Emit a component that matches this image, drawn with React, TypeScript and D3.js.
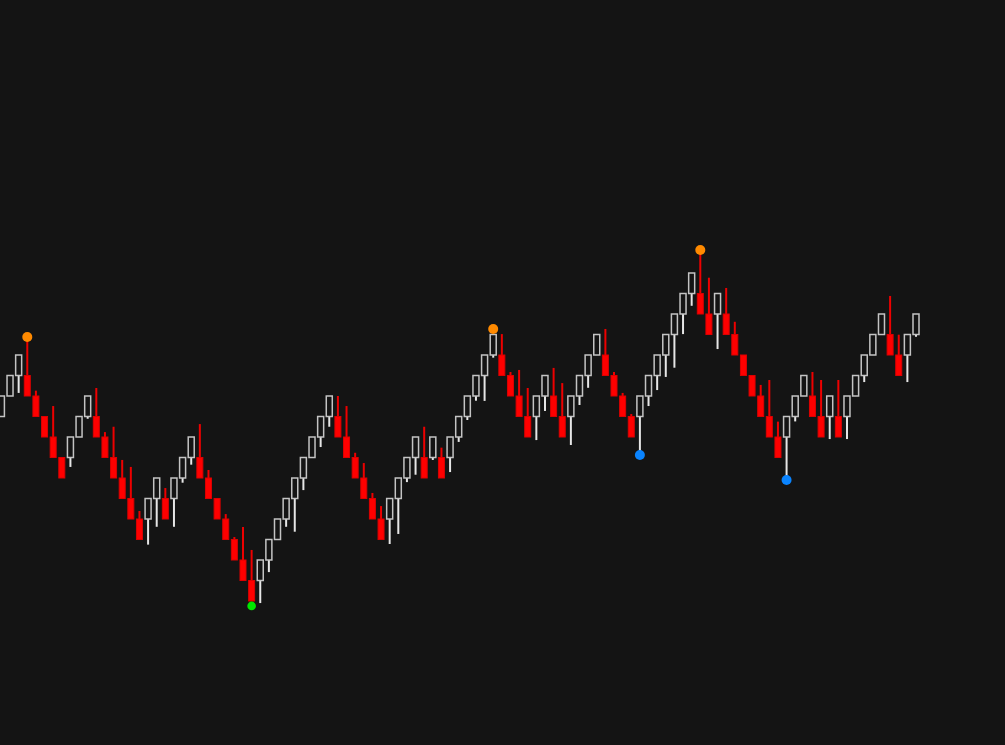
import { useEffect, useRef } from "react";
import * as d3 from "d3";

// Renko bricks: bottom level of each brick (brick size = 1), direction (1 up / -1 down)
const boxes = [
  9, 10, 11, 10, 9, 8, 7, 6, 7, 8, 9, 8, 7, 6, 5, 4, 3, 4, 5, 4,
  5, 6, 7, 6, 5, 4, 3, 2, 1, 0, 1, 2, 3, 4, 5, 6, 7, 8, 9, 8,
  7, 6, 5, 4, 3, 4, 5, 6, 7, 6, 7, 6, 7, 8, 9, 10, 11, 12, 11, 10,
  9, 8, 9, 10, 9, 8, 9, 10, 11, 12, 11, 10, 9, 8, 9, 10, 11, 12, 13, 14,
  15, 14, 13, 14, 13, 12, 11, 10, 9, 8, 7, 8, 9, 10, 9, 8, 9, 8, 9, 10,
  11, 12, 13, 12, 11, 12, 13,
];
const dirs = [
  1, 1, 1, -1, -1, -1, -1, -1, 1, 1, 1, -1, -1, -1, -1, -1, -1, 1, 1, -1,
  1, 1, 1, -1, -1, -1, -1, -1, -1, -1, 1, 1, 1, 1, 1, 1, 1, 1, 1, -1,
  -1, -1, -1, -1, -1, 1, 1, 1, 1, -1, 1, -1, 1, 1, 1, 1, 1, 1, -1, -1,
  -1, -1, 1, 1, -1, -1, 1, 1, 1, 1, -1, -1, -1, -1, 1, 1, 1, 1, 1, 1,
  1, -1, -1, 1, -1, -1, -1, -1, -1, -1, -1, 1, 1, 1, -1, -1, 1, -1, 1, 1,
  1, 1, 1, -1, -1, 1, 1,
];
// wick tip: low for up bricks, high for down bricks (null = no wick)
const wicks: (number | null)[] = [
  null, null, 10.15, 12.88, 10.26, null, 9.51, null, 6.54, null, 8.89, 10.39, 8.24, 8.5, 6.88, 6.54, 4.39, 2.75, 3.62, 5.51,
  3.62, 5.77, 6.65, 8.63, 6.39, null, 4.24, 3.12, 3.61, 2.49, -0.1, 1.41, null, 3.62, 3.38, 5.41, null, 7.51, 8.5, 10.0,
  9.51, 7.23, 6.73, 5.27, 4.63, 2.78, 3.27, 5.8, 6.16, 8.5, 6.88, 7.48, 6.29, 7.76, 8.83, 9.77, 9.76, 11.87, 13.02, 11.17,
  11.27, 10.39, 7.85, 9.27, 11.37, 10.63, 7.61, 9.56, 10.4, null, 13.27, 11.17, 10.15, 9.12, 7.12, 9.51, 10.29, 10.93, 11.38, 13.02,
  14.4, 17.12, 15.77, 12.29, 15.27, 13.62, null, null, 10.54, 10.78, 8.75, 5.9, 8.76, null, 11.17, 10.78, 7.9, 10.78, 7.9, null,
  10.68, null, null, 14.88, 12.99, 10.68, 12.89,
];

// swing markers: candle index, price
const swingHighs = [[3, 12.88], [57, 13.27], [81, 17.12]];
const swingLows = [[29, -0.24]];
const pivotLows = [[74, 7.12], [91, 5.9]];

const W = 1005;
const H = 745;

export default function App() {
  const ref = useRef<SVGSVGElement>(null);

  useEffect(() => {
    document.body.style.margin = "0";
    document.body.style.background = "#141414";
    if (!ref.current) return;
    const svg = d3.select(ref.current);
    svg.selectAll("*").remove();

    svg.append("rect").attr("width", W).attr("height", H).attr("fill", "#141414");

    const x = d3.scaleLinear().domain([0, boxes.length - 1]).range([1.4, 916]);
    const y = d3.scaleLinear().domain([0, 16]).range([601, 273]);

    const data = boxes.map((b, i) => ({ i, b, d: dirs[i], w: wicks[i] }));
    const bw = 6;

    const g = svg.append("g");

    // wicks
    g.selectAll("line.wick")
      .data(data.filter((d) => d.w !== null))
      .join("line")
      .attr("class", "wick")
      .attr("x1", (d) => x(d.i)).attr("x2", (d) => x(d.i))
      .attr("y1", (d) => (d.d > 0 ? y(d.b) : y(d.b + 1)))
      .attr("y2", (d) => y(d.w as number))
      .attr("stroke", (d) => (d.d > 0 ? "#e6e6e6" : "#ee0000"))
      .attr("stroke-width", 2);

    // bodies
    g.selectAll("rect.body")
      .data(data)
      .join("rect")
      .attr("class", "body")
      .attr("x", (d) => x(d.i) - bw / 2)
      .attr("y", (d) => y(d.b + 1))
      .attr("width", bw)
      .attr("height", (d) => y(d.b) - y(d.b + 1))
      .attr("fill", (d) => (d.d > 0 ? "#141414" : "#ff0000"))
      .attr("stroke", (d) => (d.d > 0 ? "#c4c4c4" : "#dd0000"))
      .attr("stroke-width", (d) => (d.d > 0 ? 1.5 : 1));

    const dots = (pts: number[][], color: string, r: number) =>
      g.append("g")
        .selectAll("circle")
        .data(pts)
        .join("circle")
        .attr("cx", (d) => x(d[0]))
        .attr("cy", (d) => y(d[1]))
        .attr("r", r)
        .attr("fill", color);

    dots(swingHighs, "#ff8a00", 5);
    dots(swingLows, "#00e600", 4.3);
    dots(pivotLows, "#0a84ff", 5);
  }, []);

  return (
    <svg
      ref={ref}
      width={W}
      height={H}
      style={{ position: "absolute", left: 0, top: 0, display: "block" }}
    />
  );
}
